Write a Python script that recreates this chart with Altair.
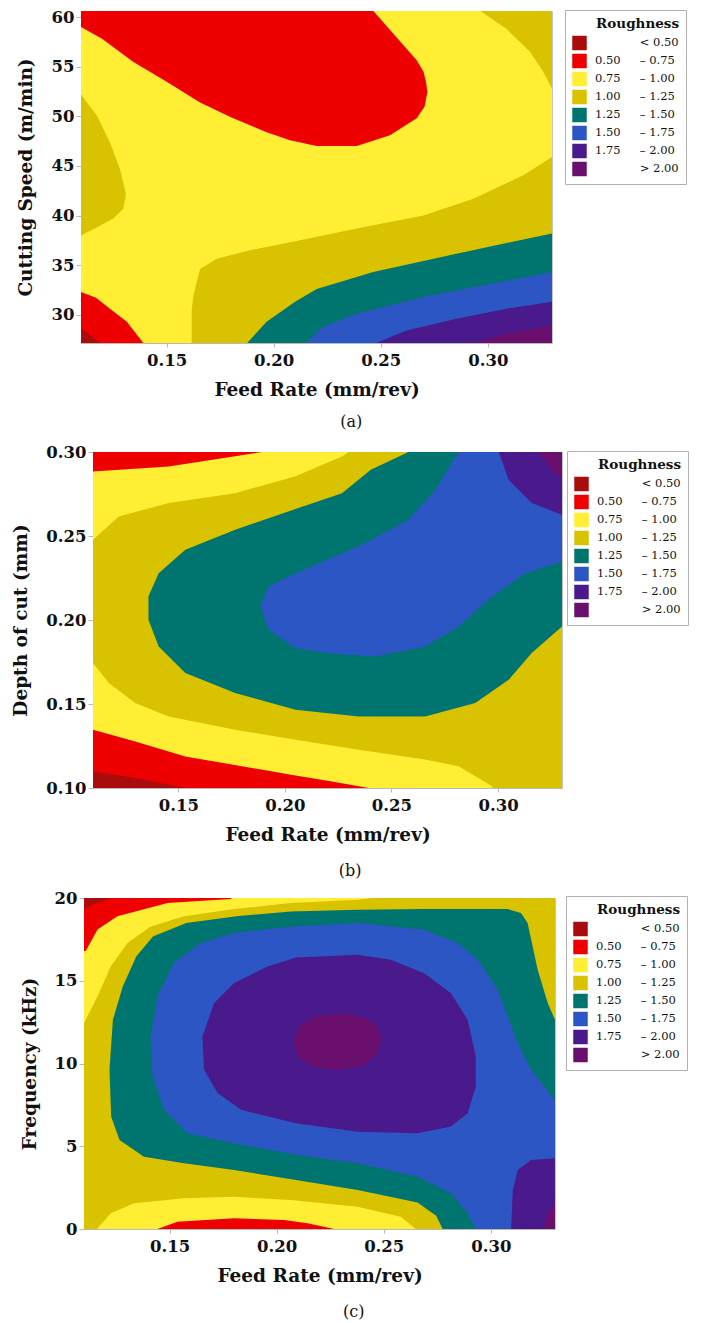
import altair as alt
import pandas as pd

# ---------------- levels / colours ----------------
LEVELS = ["< 0.50", "0.50 – 0.75", "0.75 – 1.00", "1.00 – 1.25",
          "1.25 – 1.50", "1.50 – 1.75", "1.75 – 2.00", "> 2.00"]
COLORS = ["#a80c0c", "#ee0000", "#ffee33", "#d9c200",
          "#007570", "#2b56c4", "#4a1a8c", "#6a0f6e"]

# ---------------- panel (a): Feed rate vs Cutting speed ----------------
a_base = [(0.105, 26.9), (0.335, 26.9), (0.335, 61.5), (0.105, 61.5)]
a_red_top = [(0.105, 61.5), (0.2455, 61.5), (0.245, 61.0), (0.2668, 55.65), (0.2700, 54.5),
             (0.2712, 53.4), (0.2718, 52.45), (0.2705, 51.0), (0.2668, 49.8), (0.2543, 48.1),
             (0.2388, 47.0), (0.2201, 47.0), (0.2076, 47.6), (0.1967, 48.4), (0.1800, 49.9),
             (0.1656, 51.4), (0.1500, 53.5), (0.1343, 55.5), (0.1200, 57.8), (0.1100, 59.0),
             (0.105, 59.0)]
a_must_tr = [(0.294, 61.5), (0.294, 61.0), (0.3088, 58.8), (0.3197, 56.5), (0.3259, 54.5),
             (0.3300, 52.8), (0.335, 52.8), (0.335, 61.5)]
a_must_left = [(0.105, 52.2), (0.1100, 52.2), (0.1173, 50.1), (0.1235, 47.4), (0.1282, 44.7),
               (0.1310, 42.2), (0.1298, 40.7), (0.1251, 39.7), (0.1173, 38.8), (0.1100, 38.0),
               (0.105, 38.0)]
a_red_bl = [(0.105, 32.3), (0.1100, 32.3), (0.1170, 31.7), (0.1235, 30.6), (0.1314, 29.3),
            (0.1391, 27.15), (0.1392, 26.9), (0.105, 26.9)]
a_dred = [(0.105, 28.6), (0.1100, 28.6), (0.1150, 27.8), (0.1189, 27.15), (0.1190, 26.9),
          (0.105, 26.9)]
a_must_br = [(0.1617, 26.9), (0.1617, 30.5), (0.1625, 31.95), (0.1656, 34.6), (0.1734, 35.65),
             (0.1889, 36.5), (0.2100, 37.4), (0.2388, 38.7), (0.2699, 40.0), (0.2933, 41.7),
             (0.3166, 44.05), (0.3300, 45.9), (0.335, 45.9), (0.335, 26.9)]
a_teal = [(0.1866, 26.9), (0.1967, 29.3), (0.2100, 31.3), (0.2201, 32.6), (0.2465, 34.3),
          (0.2854, 36.15), (0.3300, 38.2), (0.335, 38.2), (0.335, 26.9)]
a_blue = [(0.2138, 26.9), (0.2231, 28.8), (0.2388, 30.1), (0.2699, 31.8), (0.3010, 33.1),
          (0.3300, 34.3), (0.335, 34.3), (0.335, 26.9)]
a_indigo = [(0.2450, 26.9), (0.2620, 28.4), (0.2854, 29.6), (0.3088, 30.6), (0.3300, 31.3),
            (0.335, 31.3), (0.335, 26.9)]
a_purple = [(0.2902, 26.9), (0.3088, 28.1), (0.3300, 28.9), (0.335, 28.9), (0.335, 26.9)]

A_LAYERS = [
    ("0.75 – 1.00", a_base), ("0.50 – 0.75", a_red_top), ("1.00 – 1.25", a_must_tr),
    ("1.00 – 1.25", a_must_left), ("0.50 – 0.75", a_red_bl), ("< 0.50", a_dred),
    ("1.00 – 1.25", a_must_br), ("1.25 – 1.50", a_teal), ("1.50 – 1.75", a_blue),
    ("1.75 – 2.00", a_indigo), ("> 2.00", a_purple),
]

# ---------------- panel (b): Feed rate vs Depth of cut ----------------
b_base = [(0.105, 0.095), (0.335, 0.095), (0.335, 0.305), (0.105, 0.305)]
b_yel_top = [(0.105, 0.305), (0.2315, 0.305), (0.2300, 0.300), (0.2268, 0.2973), (0.2050, 0.2855),
             (0.1767, 0.2755), (0.1455, 0.2696), (0.1221, 0.2616), (0.1100, 0.2477), (0.105, 0.2477)]
b_red_top = [(0.105, 0.305), (0.1900, 0.305), (0.1893, 0.300), (0.1455, 0.2914), (0.1100, 0.2884),
             (0.105, 0.2884)]
b_yel_bot = [(0.105, 0.1744), (0.1100, 0.1744), (0.1174, 0.1625), (0.1298, 0.1506), (0.1455, 0.1426),
             (0.1767, 0.1347), (0.2050, 0.1287), (0.2346, 0.1228), (0.2658, 0.1170), (0.2815, 0.1129),
             (0.2972, 0.1010), (0.2985, 0.095), (0.105, 0.095)]
b_red_bot = [(0.105, 0.1347), (0.1100, 0.1347), (0.1298, 0.1277), (0.1533, 0.1188), (0.1846, 0.1119),
             (0.2050, 0.1074), (0.2221, 0.1039), (0.2393, 0.1000), (0.2405, 0.095), (0.105, 0.095)]
b_dred = [(0.105, 0.1099), (0.1100, 0.1099), (0.1298, 0.1060), (0.1533, 0.1000), (0.1545, 0.095),
          (0.105, 0.095)]
b_teal = [(0.2595, 0.305), (0.2580, 0.300), (0.2403, 0.2894), (0.2268, 0.2755), (0.2050, 0.2661),
          (0.1767, 0.2537), (0.1533, 0.2418), (0.1408, 0.2279), (0.1360, 0.2140), (0.1360, 0.2001),
          (0.1408, 0.1843), (0.1533, 0.1684), (0.1767, 0.1565), (0.2050, 0.1466), (0.2346, 0.1426),
          (0.2658, 0.1426), (0.2893, 0.1506), (0.3050, 0.1644), (0.3158, 0.1803), (0.3300, 0.1962),
          (0.335, 0.1962), (0.335, 0.305)]
b_blue = [(0.2825, 0.305), (0.2815, 0.300), (0.2706, 0.2775), (0.2580, 0.2597), (0.2346, 0.2438),
          (0.2049, 0.2279), (0.1924, 0.2200), (0.1885, 0.2081), (0.1924, 0.1942), (0.2050, 0.1833),
          (0.2190, 0.1803), (0.2424, 0.1783), (0.2658, 0.1843), (0.2815, 0.1962), (0.2972, 0.2140),
          (0.3128, 0.2279), (0.3300, 0.2348), (0.335, 0.2348), (0.335, 0.305)]
b_indigo = [(0.3000, 0.305), (0.3003, 0.300), (0.3050, 0.2834), (0.3158, 0.2696), (0.3300, 0.2626),
            (0.335, 0.2626), (0.335, 0.305)]
b_purple = [(0.3190, 0.305), (0.3191, 0.300), (0.3268, 0.2874), (0.3300, 0.2855), (0.335, 0.2855),
            (0.335, 0.305)]

B_LAYERS = [
    ("1.00 – 1.25", b_base), ("0.75 – 1.00", b_yel_top), ("0.50 – 0.75", b_red_top),
    ("0.75 – 1.00", b_yel_bot), ("0.50 – 0.75", b_red_bot), ("< 0.50", b_dred),
    ("1.25 – 1.50", b_teal), ("1.50 – 1.75", b_blue), ("1.75 – 2.00", b_indigo),
    ("> 2.00", b_purple),
]

# ---------------- panel (c): Feed rate vs Frequency ----------------
c_base = [(0.105, -0.5), (0.335, -0.5), (0.335, 20.5), (0.105, 20.5)]
c_yel_top = [(0.105, 20.5), (0.2460, 20.5), (0.2450, 20.0), (0.2378, 19.9), (0.2066, 19.7),
             (0.1801, 19.33), (0.1567, 18.89), (0.1412, 18.28), (0.1303, 17.28), (0.1225, 15.86),
             (0.1163, 14.05), (0.1100, 12.44), (0.105, 12.44)]
c_red_top = [(0.105, 20.5), (0.1800, 20.5), (0.1786, 19.94), (0.1490, 19.7), (0.1256, 18.9),
             (0.1163, 18.1), (0.1108, 16.8), (0.105, 16.8)]
c_dred = [(0.105, 20.5), (0.1230, 20.5), (0.1225, 20.0), (0.1140, 19.6), (0.1100, 19.35),
          (0.105, 19.35)]
c_yel_bot = [(0.1163, -0.5), (0.1163, 0.04), (0.1225, 0.95), (0.1334, 1.55), (0.1567, 1.86),
             (0.1801, 1.95), (0.2066, 1.75), (0.2378, 1.35), (0.2580, 0.74), (0.2650, 0.0),
             (0.2660, -0.5)]
c_red_bot = [(0.1443, -0.5), (0.1443, 0.0), (0.1536, 0.44), (0.1801, 0.65), (0.2035, 0.55),
             (0.2144, 0.34), (0.2269, 0.0), (0.2270, -0.5)]
c_teal = [(0.3078, 19.33), (0.2689, 19.33), (0.2378, 19.29), (0.2066, 19.19), (0.1812, 18.89),
          (0.1578, 18.49), (0.1422, 17.68), (0.1344, 16.47), (0.1281, 14.65), (0.1235, 12.64),
          (0.1219, 9.62), (0.1227, 6.79), (0.1266, 5.38), (0.1380, 4.37), (0.1567, 3.97),
          (0.1801, 3.57), (0.2090, 2.96), (0.2378, 2.36), (0.2658, 1.6), (0.2745, 0.8),
          (0.2775, 0.0), (0.2780, -0.5), (0.335, -0.5), (0.335, 12.64), (0.3300, 12.64),
          (0.3266, 13.65), (0.3219, 15.66), (0.3172, 18.49), (0.3141, 19.09)]
c_blue = [(0.3300, 7.8), (0.3188, 9.62), (0.3126, 11.23), (0.3032, 14.45), (0.2939, 16.27),
          (0.2845, 17.28), (0.2689, 18.08), (0.2378, 18.49), (0.2090, 18.3), (0.1801, 17.88),
          (0.1645, 17.28), (0.1520, 16.07), (0.1443, 14.05), (0.1412, 11.63), (0.1420, 9.21),
          (0.1474, 7.2), (0.1583, 5.79), (0.1801, 5.18), (0.2090, 4.48), (0.2378, 3.97),
          (0.2658, 3.16), (0.2814, 2.16), (0.2892, 0.95), (0.2930, 0.0), (0.2932, -0.5),
          (0.335, -0.5), (0.335, 7.8)]
c_indigo = [(0.2090, 16.4), (0.1957, 15.86), (0.1801, 14.86), (0.1708, 13.65), (0.1653, 11.63),
            (0.1661, 9.62), (0.1724, 8.21), (0.1833, 7.2), (0.2090, 6.39), (0.2378, 5.88),
            (0.2658, 5.79), (0.2814, 6.19), (0.2892, 7.0), (0.2930, 8.6), (0.2930, 10.42),
            (0.2892, 12.64), (0.2814, 14.25), (0.2689, 15.46), (0.2533, 16.27), (0.2378, 16.57)]
c_indigo_br = [(0.335, 4.28), (0.3300, 4.28), (0.3188, 4.17), (0.3126, 3.57), (0.3103, 2.36),
               (0.3095, 0.0), (0.3094, -0.5), (0.335, -0.5)]
c_purple = [(0.2081, 11.4), (0.2110, 12.3), (0.2180, 12.85), (0.2285, 13.0), (0.2390, 12.85),
            (0.2460, 12.4), (0.2489, 11.6), (0.2470, 10.6), (0.2400, 9.85), (0.2285, 9.6),
            (0.2170, 9.8), (0.2100, 10.4)]
c_purple_br = [(0.3243, -0.5), (0.3243, 0.0), (0.3266, 0.9), (0.3300, 1.55), (0.335, 1.55),
               (0.335, -0.5)]

C_LAYERS = [
    ("1.00 – 1.25", c_base), ("0.75 – 1.00", c_yel_top), ("0.50 – 0.75", c_red_top),
    ("< 0.50", c_dred), ("0.75 – 1.00", c_yel_bot), ("0.50 – 0.75", c_red_bot),
    ("1.25 – 1.50", c_teal), ("1.50 – 1.75", c_blue), ("1.75 – 2.00", c_indigo),
    ("1.75 – 2.00", c_indigo_br), ("> 2.00", c_purple), ("> 2.00", c_purple_br),
]

X_TICKS = [0.15, 0.20, 0.25, 0.30]
A_YTICKS = [30, 35, 40, 45, 50, 55, 60]
B_YTICKS = [0.10, 0.15, 0.20, 0.25, 0.30]
C_YTICKS = [0, 5, 10, 15, 20]

SERIF = "DejaVu Serif"
GRAY = "#b8b8b8"

GAP = "\u2003\u2002\u2006"
PREFIX = "\u2060\u2007\u2008\u2007\u2007" + GAP
LABEL_EXPR = ("indexof(datum.label, '–') > 0 ? replace(datum.label, ' – ', '" + GAP + "– ') : '"
              + PREFIX + "' + datum.label")


def axis(title, values, fmt, tick, lpad, tpad):
    return alt.Axis(title=title, values=values, format=fmt, grid=False,
                    labelFont=SERIF, labelFontWeight="bold", labelFontSize=16.5,
                    labelColor="#111111", labelPadding=lpad, labelFlush=False,
                    labelOverlap=False,
                    titleFont=SERIF, titleFontWeight="bold", titleFontSize=18.5,
                    titleColor="#111111", titlePadding=tpad,
                    domainColor=GRAY, tickColor=GRAY, tickSize=tick)


def legend(lx, ly):
    return alt.Legend(orient="none", legendX=lx, legendY=ly, title="Roughness",
                      titleFont=SERIF, titleFontWeight="bold", titleFontSize=13.5,
                      titleColor="#111111", titleAnchor="end", titlePadding=5,
                      labelFont=SERIF, labelFontSize=11.5, labelColor="#111111",
                      labelExpr=LABEL_EXPR, labelLimit=300, labelOffset=8,
                      symbolType="square", symbolSize=210, symbolStrokeWidth=0,
                      symbolOpacity=1, rowPadding=3.0, padding=7,
                      strokeColor="#b0b0b0", fillColor="white")


def panel(layers, xdom, ydom, w, h, yaxis, leg, label, label_offset):
    xs = alt.Scale(domain=xdom, nice=False, zero=False)
    ys = alt.Scale(domain=ydom, nice=False, zero=False)
    cs = alt.Scale(domain=LEVELS, range=COLORS)
    xaxis = axis("Feed Rate (mm/rev)", X_TICKS, ".2f", 4, 5, 12)
    charts = []
    for k, (level, pts) in enumerate(layers):
        df = pd.DataFrame({"x": [p[0] for p in pts], "y": [p[1] for p in pts],
                           "i": list(range(len(pts))), "level": level})
        charts.append(
            alt.Chart(df).mark_line(filled=True, interpolate="linear-closed", clip=True,
                                    strokeWidth=0, opacity=1).encode(
                x=alt.X("x:Q", scale=xs, axis=xaxis),
                y=alt.Y("y:Q", scale=ys, axis=yaxis),
                color=alt.Color("level:N", scale=cs, legend=leg),
                order=alt.Order("i:Q"),
            )
        )
    return alt.layer(*charts).properties(
        width=w, height=h,
        view=alt.ViewBackground(stroke="#c4c4c4", strokeWidth=1),
        title=alt.TitleParams(label, orient="bottom", anchor="middle", frame="bounds",
                              font=SERIF, fontSize=16, fontWeight="normal",
                              color="#111111", offset=label_offset),
    )


def spacer(w):
    d = pd.DataFrame({"s": [0]})
    return alt.Chart(d).mark_point(size=0, opacity=0).encode(
        x=alt.X("s:Q", axis=None), y=alt.Y("s:Q", axis=None)
    ).properties(width=w, height=1, view=alt.ViewBackground(stroke="transparent"))


pa = panel(A_LAYERS, [0.11, 0.33], [27.15, 60.62], 471, 332,
           axis("Cutting Speed (m/min)", A_YTICKS, "d", 5, 2, 16),
           legend(484, -1), "(a)", 15)
pb = panel(B_LAYERS, [0.11, 0.33], [0.10, 0.30], 469, 336,
           axis("Depth of cut (mm)", B_YTICKS, ".2f", 5, 2, 15),
           legend(474, -1), "(b)", 19)
pc = panel(C_LAYERS, [0.11, 0.33], [0, 20], 471, 331,
           axis("Frequency (kHz)", C_YTICKS, "d", 5, 2, 15),
           legend(482, -2), "(c)", 19)

row_a = alt.hconcat(spacer(5), pa, spacing=0).resolve_scale(color="independent").resolve_legend(color="independent")
row_b = alt.hconcat(spacer(1), pb, spacing=0).resolve_scale(color="independent").resolve_legend(color="independent")
row_c = alt.hconcat(spacer(9), pc, spacing=0).resolve_scale(color="independent").resolve_legend(color="independent")

top = alt.vconcat(row_a, row_b, spacing=12).resolve_scale(color="independent").resolve_legend(color="independent")
chart = alt.vconcat(top, row_c, spacing=9).resolve_scale(
    color="independent").resolve_legend(color="independent").properties(padding=0)

chart.save("out.html", embed_options={"renderer": "svg", "actions": False})
